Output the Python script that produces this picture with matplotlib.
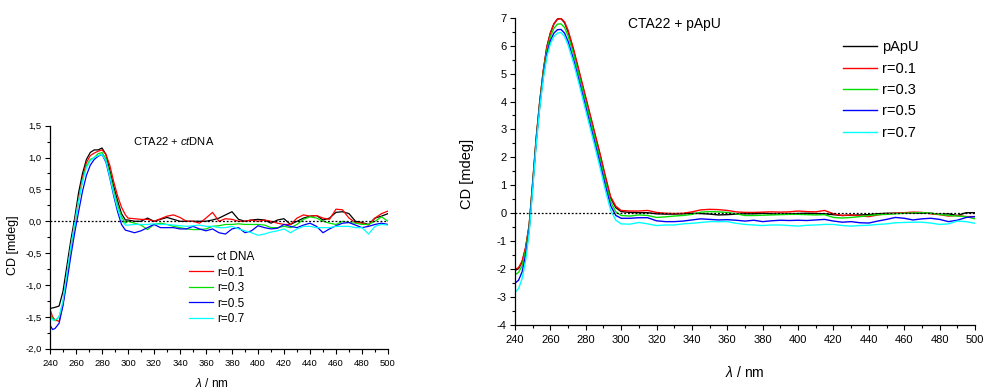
import matplotlib
matplotlib.use("Agg")
import matplotlib.pyplot as plt
from matplotlib.ticker import MultipleLocator, FuncFormatter

plt.rcParams['font.family'] = ['Liberation Sans', 'DejaVu Sans']
plt.rcParams['mathtext.fontset'] = 'custom'
plt.rcParams['mathtext.rm'] = 'Liberation Sans'
plt.rcParams['mathtext.it'] = 'Liberation Sans:italic'

# ---------------- left panel: CTA22 + ctDNA ----------------
left_wl = [240, 242, 244, 247, 250, 253, 256, 259, 262, 265, 268, 271, 274, 277, 280,
           283, 286, 289, 292, 295, 298] + list(range(300, 501, 5))
left_labels = ["ct DNA", "r=0.1", "r=0.3", "r=0.5", "r=0.7"]
left_ctdna = [-1.37, -1.36, -1.35, -1.33, -1.1, -0.7, -0.3, 0.05, 0.45, 0.75, 0.97, 1.08, 1.12, 1.12, 1.15,
              1.05, 0.8, 0.55, 0.32, 0.12, 0.02,
              0.02, 0.0, 0.0, 0.05, 0.0, 0.03, 0.06, 0.03, 0.0, 0.0,
              0.0, 0.0, 0.0, 0.02, 0.05, 0.1, 0.15, 0.03, 0.0, 0.02,
              0.03, 0.02, -0.03, 0.02, 0.04, -0.05, 0.0, 0.05, 0.08, 0.09,
              0.02, 0.05, 0.14, 0.15, 0.12, 0.0, -0.02, -0.05, 0.05, 0.08,
              0.12]
left_r01 = [-1.38, -1.5, -1.55, -1.57, -1.3, -0.85, -0.4, -0.02, 0.35, 0.68, 0.92, 1.03, 1.07, 1.1, 1.12,
            1.05, 0.88, 0.62, 0.4, 0.22, 0.1,
            0.05, 0.04, 0.03, 0.03, 0.0, 0.04, 0.08, 0.1, 0.06, 0.0,
            0.0, -0.03, 0.05, 0.14, 0.0, 0.04, 0.03, 0.0, 0.0, 0.02,
            0.0, 0.02, 0.0, -0.03, -0.05, -0.05, 0.05, 0.1, 0.08, 0.09,
            0.05, 0.03, 0.19, 0.18, 0.05, -0.02, -0.03, -0.06, 0.05, 0.12,
            0.16]
left_r03 = [-1.45, -1.53, -1.56, -1.5, -1.28, -0.85, -0.42, -0.05, 0.32, 0.64, 0.87, 0.97, 1.0, 1.06, 1.08,
            0.98, 0.75, 0.48, 0.25, 0.07, -0.03,
            0.0, -0.03, -0.06, -0.13, -0.05, -0.03, -0.05, -0.08, -0.1, -0.12,
            -0.13, -0.13, -0.12, -0.08, -0.07, -0.05, -0.05, -0.04, -0.05, -0.05,
            -0.05, -0.06, -0.1, -0.1, -0.08, -0.1, -0.05, 0.03, 0.07, 0.05,
            0.0, -0.03, -0.05, 0.0, -0.02, -0.03, -0.05, -0.05, 0.0, 0.07,
            0.0]
left_r05 = [-1.63, -1.7, -1.68, -1.6, -1.32, -0.95, -0.55, -0.18, 0.15, 0.47, 0.72, 0.88, 0.97, 1.02, 1.05,
            0.93, 0.68, 0.4, 0.15, -0.05, -0.14,
            -0.15, -0.18, -0.15, -0.1, -0.05, -0.1, -0.1, -0.1, -0.12, -0.12,
            -0.08, -0.12, -0.15, -0.12, -0.18, -0.2, -0.12, -0.1, -0.18, -0.15,
            -0.07, -0.1, -0.12, -0.11, -0.05, -0.08, -0.1, -0.06, -0.03, -0.08,
            -0.18, -0.12, -0.07, -0.03, -0.02, -0.06, -0.1, -0.08, -0.05, -0.03,
            -0.05]
left_r07 = [-1.48, -1.55, -1.55, -1.5, -1.25, -0.82, -0.4, -0.03, 0.32, 0.62, 0.84, 0.95, 1.0, 1.03, 1.05,
            0.95, 0.7, 0.43, 0.2, 0.02, -0.06,
            -0.06, -0.05, -0.05, -0.05, -0.04, -0.05, -0.05, -0.06, -0.07, -0.08,
            -0.07, -0.06, -0.08, -0.08, -0.1, -0.1, -0.08, -0.12, -0.15, -0.18,
            -0.22, -0.2, -0.17, -0.15, -0.12, -0.18, -0.12, -0.08, -0.08, -0.1,
            -0.1, -0.1, -0.08, -0.08, -0.08, -0.1, -0.1, -0.2, -0.08, -0.05,
            -0.06]

# ---------------- right panel: CTA22 + pApU ----------------
right_wl = [240, 242, 244, 246, 248, 250, 252, 254, 256, 258, 260, 262, 264, 266, 268, 270,
            273, 276, 279, 282, 285, 288, 291, 294, 297, 300] + list(range(305, 501, 5))
right_labels = ["pApU", "r=0.1", "r=0.3", "r=0.5", "r=0.7"]
right_papu = [-2.05, -1.98, -1.75, -1.25, -0.45, 1.1, 2.7, 4.0, 5.1, 5.95, 6.45, 6.78, 6.95, 6.97, 6.82, 6.5,
              5.85, 5.1, 4.35, 3.6, 2.85, 2.1, 1.3, 0.55, 0.2, 0.06,
              0.03, 0.02, 0.02, -0.02, -0.03, -0.03, -0.02, 0.0, -0.01, -0.03,
              -0.06, -0.05, -0.03, -0.02, -0.02, 0.0, -0.02, -0.03, -0.02, -0.01,
              0.0, -0.01, -0.02, -0.05, -0.08, -0.07, -0.06, -0.05, -0.02, 0.0,
              0.0, 0.0, 0.0, 0.0, 0.0, -0.04, -0.02, -0.08, 0.02, 0.02]
right_r01 = [-2.0, -1.95, -1.72, -1.22, -0.42, 1.1, 2.7, 4.0, 5.1, 5.95, 6.45, 6.78, 6.95, 6.97, 6.85, 6.55,
             5.9, 5.15, 4.4, 3.65, 2.9, 2.15, 1.35, 0.6, 0.25, 0.1,
             0.08, 0.08, 0.1, 0.03, 0.0, -0.01, 0.0, 0.05, 0.12, 0.14,
             0.13, 0.1, 0.05, 0.03, 0.03, 0.04, 0.05, 0.04, 0.05, 0.08,
             0.06, 0.05, 0.1, -0.02, -0.08, -0.06, -0.1, -0.12, -0.06, -0.02,
             0.0, 0.02, 0.04, 0.03, -0.02, -0.05, -0.1, -0.08, -0.12, -0.12]
right_r03 = [-2.2, -2.12, -1.88, -1.35, -0.5, 1.02, 2.62, 3.92, 5.0, 5.82, 6.32, 6.62, 6.77, 6.78, 6.65, 6.35,
             5.72, 4.98, 4.22, 3.48, 2.72, 1.95, 1.15, 0.42, 0.05, -0.08,
             -0.1, -0.06, -0.08, -0.15, -0.13, -0.1, -0.08, -0.04, 0.04, 0.06,
             0.05, 0.03, -0.02, -0.08, -0.08, -0.07, -0.06, -0.05, -0.04, -0.04,
             -0.05, -0.06, -0.05, -0.15, -0.17, -0.15, -0.12, -0.08, -0.05, -0.04,
             -0.02, 0.0, 0.01, 0.02, 0.0, -0.04, -0.08, -0.1, -0.12, -0.2]
right_r05 = [-2.5, -2.4, -2.1, -1.5, -0.6, 0.95, 2.55, 3.85, 4.9, 5.7, 6.18, 6.45, 6.57, 6.58, 6.45, 6.15,
             5.52, 4.8, 4.05, 3.3, 2.55, 1.8, 1.0, 0.28, -0.08, -0.18,
             -0.18, -0.16, -0.16, -0.27, -0.3, -0.3, -0.28, -0.24, -0.2, -0.22,
             -0.24, -0.23, -0.25, -0.28, -0.25, -0.3, -0.27, -0.25, -0.26, -0.25,
             -0.26, -0.24, -0.22, -0.28, -0.32, -0.3, -0.34, -0.35, -0.28, -0.22,
             -0.15, -0.18, -0.24, -0.2, -0.18, -0.22, -0.3, -0.25, -0.15, -0.12]
right_r07 = [-2.83, -2.7, -2.35, -1.7, -0.7, 0.85, 2.48, 3.78, 4.82, 5.6, 6.07, 6.33, 6.45, 6.47, 6.33, 6.02,
             5.4, 4.68, 3.92, 3.17, 2.42, 1.65, 0.85, 0.12, -0.25, -0.38,
             -0.39, -0.33, -0.38, -0.44, -0.42, -0.42, -0.38, -0.36, -0.33, -0.3,
             -0.3, -0.3, -0.36, -0.4, -0.42, -0.44, -0.42, -0.42, -0.44, -0.46,
             -0.43, -0.42, -0.4, -0.4, -0.44, -0.46, -0.44, -0.43, -0.4, -0.38,
             -0.34, -0.33, -0.32, -0.32, -0.35, -0.4, -0.38, -0.28, -0.3, -0.36]

colors = ["#000000", "#ff0000", "#00e000", "#0000ff", "#00ffff"]

W, H = 987, 389
fig = plt.figure(figsize=(W / 100, H / 100), dpi=100)


def px_axes(l, r, t, b):
    return fig.add_axes([l / W, 1 - b / H, (r - l) / W, (b - t) / H])


def style(ax, fs, ymaj, ymin):
    for s in ("top", "right"):
        ax.spines[s].set_visible(False)
    for s in ("left", "bottom"):
        ax.spines[s].set_linewidth(0.9)
    ax.xaxis.set_major_locator(MultipleLocator(20))
    ax.xaxis.set_minor_locator(MultipleLocator(10))
    ax.yaxis.set_major_locator(MultipleLocator(ymaj))
    ax.yaxis.set_minor_locator(MultipleLocator(ymin))
    ax.tick_params(which="both", direction="out", width=0.8, labelsize=fs)
    ax.tick_params(which="major", length=3.5, pad=2.5)
    ax.tick_params(which="minor", length=2)
    ax.tick_params(axis="x", which="major", pad=4)


# left
axL = px_axes(50, 388, 125.7, 348.7)
for y, c, lab in zip([left_ctdna, left_r01, left_r03, left_r05, left_r07], colors, left_labels):
    axL.plot(left_wl, y, color=c, lw=0.9, label=lab)
axL.plot([240, 500], [0, 0], color="black", lw=0.9, ls=(0, (1.5, 1.5)))
axL.set_xlim(240, 500)
axL.set_ylim(-2.0, 1.5)
style(axL, 6.8, 0.5, 0.25)
axL.yaxis.set_major_formatter(FuncFormatter(lambda v, p: ("%.1f" % v).replace(".", ",")))
axL.set_ylabel("CD [mdeg]", fontsize=9)
axL.yaxis.label.set_va("center")
axL.yaxis.set_label_coords(-0.11, 0.466)
axL.set_xlabel(r"$\mathit{\lambda}$ / nm", fontsize=8.5)
axL.xaxis.label.set_va("center")
axL.xaxis.set_label_coords(0.478, -0.155)
axL.text(0.2456, 0.933, r"CTA22 + $\mathit{ct}$DNA", transform=axL.transAxes,
         fontsize=8, ha="left", va="center")
axL.legend(loc="upper left", bbox_to_anchor=(189 / W, 1 - 251 / H),
           bbox_transform=fig.transFigure, frameon=False, fontsize=8.5,
           handlelength=2.0, handletextpad=0.4, labelspacing=0.3, borderpad=0,
           borderaxespad=0)

# right
axR = px_axes(515, 975, 17.7, 325)
for y, c, lab in zip([right_papu, right_r01, right_r03, right_r05, right_r07], colors, right_labels):
    axR.plot(right_wl, y, color=c, lw=1.0, label=lab)
axR.plot([240, 500], [0, 0], color="black", lw=0.9, ls=(0, (1.5, 1.5)))
axR.set_xlim(240, 500)
axR.set_ylim(-4, 7)
style(axR, 8, 1, 0.5)
axR.yaxis.set_major_formatter(FuncFormatter(lambda v, p: "%d" % round(v)))
axR.set_ylabel("CD [mdeg]", fontsize=10.5)
axR.yaxis.label.set_va("center")
axR.yaxis.set_label_coords(-0.104, 0.49)
axR.set_xlabel(r"$\mathit{\lambda}$ / nm", fontsize=10)
axR.xaxis.label.set_va("center")
axR.xaxis.set_label_coords(0.5, -0.153)
fig.text(628 / W, 1 - 24 / H, "CTA22 + pApU", fontsize=10, ha="left", va="center")
axR.legend(loc="upper left", bbox_to_anchor=(843 / W, 1 - 40.5 / H),
           bbox_transform=fig.transFigure, frameon=False, fontsize=10.5,
           handlelength=2.3, handletextpad=0.35, labelspacing=0.5, borderpad=0,
           borderaxespad=0)

fig.savefig("out.png", dpi=100)
